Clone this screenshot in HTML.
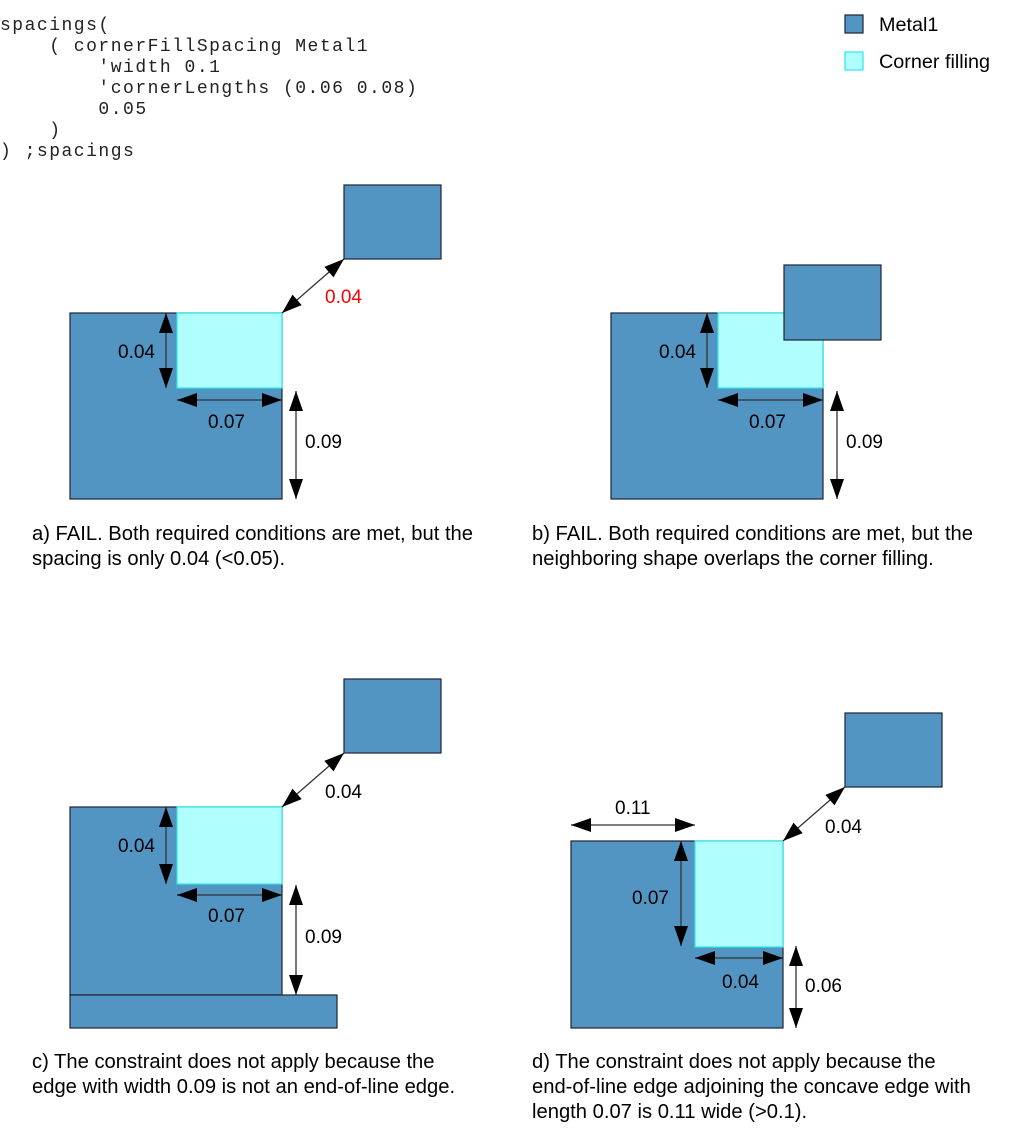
<!DOCTYPE html>
<html><head><meta charset="utf-8"><style>
body{margin:0;background:#fff;}
svg{display:block;}
.code{font-family:"Liberation Mono",monospace;font-size:18px;letter-spacing:1.5px;fill:#222;white-space:pre;}
.lbl{font-family:"Liberation Sans",sans-serif;font-size:19px;fill:#000;}
.cap{font-family:"Liberation Sans",sans-serif;font-size:20.2px;fill:#000;}
.m{fill:#5295c2;stroke:#223;stroke-width:1.2;}
.c{fill:#b0fefe;stroke:#2ee6e6;stroke-width:1.2;}
</style></head><body>
<svg id="s" width="1013" height="1144" viewBox="0 0 1013 1144" xmlns="http://www.w3.org/2000/svg">
<g xml:space="preserve">
<text class="code" x="0" y="30">spacings(</text>
<text class="code" x="0" y="51">    ( cornerFillSpacing Metal1</text>
<text class="code" x="0" y="72">        'width 0.1</text>
<text class="code" x="0" y="93">        'cornerLengths (0.06 0.08)</text>
<text class="code" x="0" y="114">        0.05</text>
<text class="code" x="0" y="135">    )</text>
<text class="code" x="0" y="156">) ;spacings</text>
</g>
<g>
<rect class="m" x="845" y="15" width="18" height="18"/>
<text class="lbl" x="879" y="31" style="font-size:19.8px">Metal1</text>
<rect class="c" x="845" y="52" width="18" height="18"/>
<text class="lbl" x="879" y="68" style="font-size:19.8px">Corner filling</text>
</g>

<g>
<rect class="m" x="70" y="313" width="212" height="186"/>
<rect class="c" x="177" y="313" width="105" height="75"/>
<rect class="m" x="344" y="185" width="97" height="74"/>
<text class="lbl" x="325" y="303" style="fill:#f00">0.04</text>
<text class="lbl" x="118" y="358">0.04</text>
<text class="lbl" x="208" y="428">0.07</text>
<text class="lbl" x="305" y="448">0.09</text>
<text class="cap" x="32" y="540">a) FAIL. Both required conditions are met, but the</text>
<text class="cap" x="32" y="565">spacing is only 0.04 (&lt;0.05).</text>
</g>
<g>
<rect class="m" x="611" y="313" width="212" height="186"/>
<rect class="c" x="718" y="313" width="105" height="75"/>
<rect class="m" x="784" y="265" width="97" height="75"/>
<text class="lbl" x="659" y="358">0.04</text>
<text class="lbl" x="749" y="428">0.07</text>
<text class="lbl" x="846" y="448">0.09</text>
<text class="cap" x="532" y="540">b) FAIL. Both required conditions are met, but the</text>
<text class="cap" x="532" y="565">neighboring shape overlaps the corner filling.</text>
</g>
<g>
<rect class="m" x="70" y="807" width="212" height="188"/>
<rect class="m" x="70" y="995" width="267" height="33"/>
<rect class="c" x="177" y="807" width="105" height="77"/>
<rect class="m" x="344" y="679" width="97" height="74"/>
<text class="lbl" x="325" y="798">0.04</text>
<text class="lbl" x="118" y="852">0.04</text>
<text class="lbl" x="208" y="922">0.07</text>
<text class="lbl" x="305" y="943">0.09</text>
<text class="cap" x="32" y="1068">c) The constraint does not apply because the</text>
<text class="cap" x="32" y="1093">edge with width 0.09 is not an end-of-line edge.</text>
</g>
<g>
<rect class="m" x="571" y="841" width="212" height="187"/>
<rect class="c" x="695" y="841" width="88" height="106"/>
<rect class="m" x="845" y="713" width="97" height="74"/>
<text class="lbl" x="825" y="833">0.04</text>
<text class="lbl" x="615" y="814">0.11</text>
<text class="lbl" x="632" y="904">0.07</text>
<text class="lbl" x="722" y="988">0.04</text>
<text class="lbl" x="805" y="992">0.06</text>
<text class="cap" x="532" y="1068">d) The constraint does not apply because the</text>
<text class="cap" x="532" y="1093">end-of-line edge adjoining the concave edge with</text>
<text class="cap" x="532" y="1118">length 0.07 is 0.11 wide (&gt;0.1).</text>
</g>
<g id="arrows"></g>
</svg>
<script>
const arrowStarts=[[282,313],[166,313],[177,400],[296,391],[166,807],[177,895],[296,885],[282,807],[707,313],[718,400],[837,391],[783,841],[571,825],[681,841],[695,958],[796,946]];
const arrowEnds=[[344,259],[166,388],[282,400],[296,499],[166,884],[282,895],[296,995],[344,753],[707,388],[823,400],[837,499],[845,787],[695,825],[681,946],[783,958],[796,1028]];
const g=document.getElementById('arrows');
const NS='http://www.w3.org/2000/svg';
function head(x,y,ux,uy){
  const L=20,W=7;
  const bx=x-ux*L,by=y-uy*L;
  const p=document.createElementNS(NS,'polygon');
  p.setAttribute('points',`${x},${y} ${bx-uy*W},${by+ux*W} ${bx+uy*W},${by-ux*W}`);
  p.setAttribute('fill','#000');
  return p;
}
arrowStarts.forEach((s,i)=>{
  const e=arrowEnds[i];
  const dx=e[0]-s[0],dy=e[1]-s[1],d=Math.hypot(dx,dy),ux=dx/d,uy=dy/d;
  const a=document.createElementNS(NS,'g');
  
  
  const l=document.createElementNS(NS,'line');
  l.setAttribute('x1',s[0]);l.setAttribute('y1',s[1]);l.setAttribute('x2',e[0]);l.setAttribute('y2',e[1]);
  l.setAttribute('stroke','#333');l.setAttribute('stroke-width','1.3');
  a.appendChild(l);
  a.appendChild(head(e[0],e[1],ux,uy));
  a.appendChild(head(s[0],s[1],-ux,-uy));
  g.appendChild(a);
});
</script>
</body></html>
